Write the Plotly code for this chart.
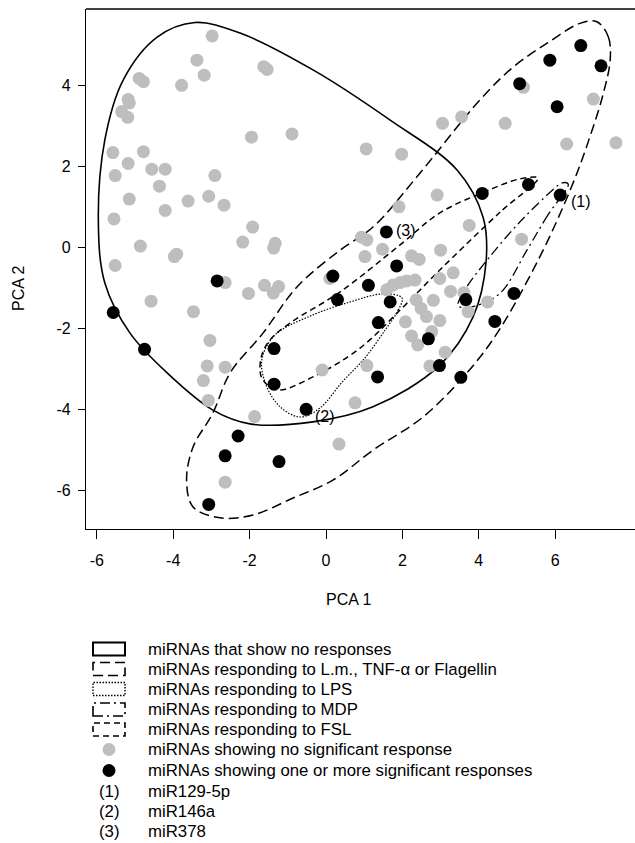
import plotly.graph_objects as go

# ---------------- data ----------------
gray_x = [-2.98, -3.38, -3.19, -1.63, -1.54, -4.89, -4.78, -3.78, -5.18, -5.15, -5.35, -5.19,
          -1.95, -0.89, -5.58, -4.78, -5.18, -4.56, -4.21, -5.52, -2.91, -4.36, -5.15, -3.61,
          -3.07, -2.67, -4.21, -5.55, -1.92, -2.18, -1.33, -1.37, -4.86, -3.91, -3.97, -5.52,
          0.93, 1.07, 1.02, 1.48, 2.24, 2.44, 3.00, 3.33, 2.98, 1.59, 1.76, 1.94, 2.11, 2.33,
          3.26, 3.61, 3.72, 4.23, 2.36, 2.49, 2.63, 2.81, 2.08, 2.98, 2.24, 2.40, 2.77, 3.12,
          2.72, 1.07, 0.76, 0.34,
          7.00, 7.59, 6.30, 4.69, 3.55, 3.05, 1.05, 1.98, 2.91, 1.91, 3.75, 5.12, 5.17,
          -2.64, -2.03, -1.61, -1.24, -1.38, -4.58, -3.47, -3.04, -3.11, -2.64, -3.21, -3.08,
          -1.87, -0.10, -2.64, 0.10]
gray_y = [5.23, 4.63, 4.26, 4.47, 4.40, 4.18, 4.10, 4.01, 3.66, 3.57, 3.36, 3.22,
          2.73, 2.81, 2.35, 2.37, 2.08, 1.94, 1.94, 1.78, 1.78, 1.52, 1.20, 1.15,
          1.27, 1.05, 0.92, 0.71, 0.51, 0.14, 0.11, -0.01, 0.04, -0.16, -0.22, -0.44,
          0.26, 0.19, -0.22, -0.04, -0.20, -0.29, -0.06, -0.62, -0.76, -1.04, -0.92, -0.86,
          -0.82, -0.80, -1.08, -1.11, -1.58, -1.34, -1.29, -1.50, -1.70, -1.30, -1.83, -1.80,
          -2.18, -2.40, -2.07, -2.58, -2.92, -2.91, -3.83, -4.85,
          3.67, 2.59, 2.56, 3.07, 3.23, 3.07, 2.44, 2.31, 1.30, 1.01, 0.55, 0.21, 3.96,
          -0.86, -1.13, -0.93, -0.96, -1.12, -1.32, -1.58, -2.29, -2.92, -2.95, -3.28, -3.77,
          -4.17, -3.02, -5.79, -0.76]

black_x = [-5.57, -4.75, -2.85, 0.18, 0.30, -1.36, -1.36, -0.52, -2.30, -2.64, -1.23, -3.07,
           6.67, 5.86, 7.20, 5.07, 6.05, 4.09, 5.30, 6.13, 1.58, 1.85, 1.11, 1.68, 1.37,
           3.66, 4.92, 4.42, 2.68, 2.97, 1.35, 3.53]
black_y = [-1.60, -2.51, -0.82, -0.70, -1.28, -2.49, -3.37, -3.99, -4.65, -5.14, -5.28, -6.34,
           4.99, 4.63, 4.49, 4.05, 3.48, 1.34, 1.56, 1.30, 0.39, -0.45, -0.93, -1.34, -1.85,
           -1.28, -1.13, -1.82, -2.25, -2.91, -3.19, -3.20]

# outlines of the response groups (vertices in PCA units)
none_x = [-3.43, -2.25, -0.34, 1.68, 3.43, 4.11, 4.19, 3.85, 2.96, 1.23, -0.34, -1.99,
          -2.96, -4.16, -5.13, -5.79, -5.96, -5.79, -5.31, -4.42]
none_y = [5.56, 5.30, 4.39, 3.15, 1.92, 0.76, -0.35, -1.71, -2.92, -3.93, -4.30, -4.35,
          -4.01, -3.09, -2.11, -0.87, 0.68, 2.66, 4.14, 5.20]

lm_x = [7.09, 7.39, 7.44, 7.26, 6.91, 6.43, 5.60, 4.48, 3.69, 2.54, 1.23, 0.18, -0.86,
        -1.91, -2.78, -3.48, -3.65, -3.48, -2.96, -2.51, -1.65, -0.76, 0.37, 1.23, 2.38,
        4.03, 4.90, 5.79, 6.65]
lm_y = [5.58, 5.21, 4.64, 3.81, 2.74, 1.51, -0.22, -2.11, -3.09, -4.18, -5.00, -5.74, -6.18,
        -6.60, -6.67, -6.40, -5.74, -4.92, -4.08, -3.09, -2.11, -0.97, -0.06, 0.51, 1.75,
        3.65, 4.46, 5.05, 5.54]

lps_x = [1.99, 1.89, 1.55, 1.02, 0.42, -0.16, -0.68, -1.20, -1.57, -1.68, -1.34, -0.42, 0.63, 1.49]
lps_y = [-1.24, -1.54, -2.03, -2.72, -3.32, -3.96, -4.18, -3.93, -3.39, -2.77, -2.16, -1.69, -1.34, -1.14]

mdp_x = [6.34, 5.81, 5.26, 4.56, 3.90, 3.46, 3.64, 4.22, 5.08, 5.94, 6.18]
mdp_y = [1.57, 0.81, -0.06, -1.12, -1.44, -1.44, -1.04, -0.30, 0.64, 1.43, 1.60]

fsl_x = [5.55, 4.56, 2.98, 1.94, 0.89, -0.34, -1.28, -1.68, -1.70, -1.47, -0.94, 0.37,
         1.94, 2.98, 4.08, 5.08]
fsl_y = [1.72, 0.88, -0.55, -1.54, -2.48, -3.19, -3.51, -3.22, -2.72, -2.28, -1.86, -1.09,
         0.07, 0.86, 1.35, 1.70]

label_text = ["(1)", "(2)", "(3)"]
label_x = [6.36, -0.34, 1.79]
label_y = [1.14, -4.17, 0.42]

x_ticks = [-6, -4, -2, 0, 2, 4, 6]
y_ticks = [-6, -4, -2, 0, 2, 4]

legend_labels = [
    "miRNAs that show no responses",
    "miRNAs responding to L.m., TNF-\u03b1 or Flagellin",
    "miRNAs responding to LPS",
    "miRNAs responding to MDP",
    "miRNAs responding to FSL",
    "miRNAs showing no significant response",
    "miRNAs showing one or more significant responses",
    "miR129-5p",
    "miR146a",
    "miR378",
]
legend_keys = ["(1)", "(2)", "(3)"]

# ---------------- layout constants ----------------
W, H = 635, 843
L, R, T, B = 86, 635, 9, 529
FONT = "Liberation Sans, Arial, sans-serif"
GRAY = "#BEBEBE"
LEG_SIZE = 16.8


def px(xp):
    return (xp - L) / (R - L)


def py(yp):
    return (B - yp) / (B - T)


fig = go.Figure()

outline_styles = [
    (none_x, none_y, "solid", 1.6),
    (lm_x, lm_y, "10px,5px", 1.5),
    (lps_x, lps_y, "1.5px,1.5px", 1.2),
    (mdp_x, mdp_y, "10px,4px,2px,4px", 1.3),
    (fsl_x, fsl_y, "6px,4px", 1.5),
]
for xs, ys, dash, w in outline_styles:
    fig.add_trace(go.Scatter(
        x=list(xs) + [xs[0]], y=list(ys) + [ys[0]], mode="lines",
        line=dict(color="black", width=w, dash=dash, shape="spline", smoothing=1),
        hoverinfo="skip", showlegend=False))

fig.add_trace(go.Scatter(x=gray_x, y=gray_y, mode="markers",
                         marker=dict(color=GRAY, size=13, line=dict(width=0)),
                         showlegend=False))
fig.add_trace(go.Scatter(x=black_x, y=black_y, mode="markers",
                         marker=dict(color="black", size=13, line=dict(width=0)),
                         showlegend=False))

annotations = []
for t, lx, ly in zip(label_text, label_x, label_y):
    annotations.append(dict(x=lx, y=ly, xref="x", yref="y", text=t, showarrow=False,
                            xanchor="left", yanchor="middle",
                            font=dict(family=FONT, size=16, color="black")))

# axis titles
annotations.append(dict(x=px(348), y=py(599), xref="paper", yref="paper", text="PCA 1",
                        showarrow=False, xanchor="center", yanchor="middle",
                        font=dict(family=FONT, size=16, color="black")))
annotations.append(dict(x=px(18), y=py(289), xref="paper", yref="paper", text="PCA 2",
                        showarrow=False, xanchor="center", yanchor="middle", textangle=-90,
                        font=dict(family=FONT, size=16, color="black")))

shapes = [dict(type="line", xref="paper", yref="paper", x0=0, x1=1, y0=1, y1=1,
               line=dict(color="black", width=1.3))]

# legend
row_y = [649, 669, 689, 709.5, 729.5, 749.5, 770.5, 791.5, 811.5, 831]
box_dash = ["solid", "10px,5px", "1.5px,1.5px", "10px,4px,2px,4px", "6px,4px"]
box_w = [2, 1.6, 1.4, 1.6, 1.6]
for i, d in enumerate(box_dash):
    shapes.append(dict(type="rect", xref="paper", yref="paper",
                       x0=px(93), x1=px(125), y0=py(row_y[i] + 6.5), y1=py(row_y[i] - 6.5),
                       line=dict(color="black", width=box_w[i], dash=d)))
for i, c in zip([5, 6], [GRAY, "black"]):
    shapes.append(dict(type="circle", xref="paper", yref="paper", xsizemode="pixel",
                       ysizemode="pixel", xanchor=px(109), yanchor=py(row_y[i]),
                       x0=-6.5, x1=6.5, y0=-6.5, y1=6.5, fillcolor=c, line=dict(width=0)))
for k, key in enumerate(legend_keys):
    annotations.append(dict(x=px(109), y=py(row_y[7 + k]), xref="paper", yref="paper",
                            text=key, showarrow=False, xanchor="center", yanchor="middle",
                            font=dict(family=FONT, size=LEG_SIZE, color="black")))
for i, lab in enumerate(legend_labels):
    annotations.append(dict(x=px(146), y=py(row_y[i]), xref="paper", yref="paper",
                            text=lab, showarrow=False, xanchor="left", yanchor="middle",
                            font=dict(family=FONT, size=LEG_SIZE, color="black")))

x0_data = -6.283
x1_data = 8.089
y0_data = -6.946
y1_data = 5.894

fig.update_layout(
    width=W, height=H, autosize=False,
    margin=dict(l=L, r=W - R, t=T, b=H - B, pad=0),
    paper_bgcolor="white", plot_bgcolor="white",
    font=dict(family=FONT, size=16, color="black"),
    showlegend=False,
    xaxis=dict(range=[x0_data, x1_data], tickvals=x_ticks, ticktext=[str(v) for v in x_ticks],
               ticks="outside", ticklen=9, tickwidth=1, tickcolor="black",
               showline=True, linecolor="black", linewidth=1.3, mirror=False,
               showgrid=False, zeroline=False, tickfont=dict(size=16),
               ticklabelstandoff=8),
    yaxis=dict(range=[y0_data, y1_data], tickvals=y_ticks, ticktext=[str(v) for v in y_ticks],
               ticks="outside", ticklen=7, tickwidth=1, tickcolor="black",
               showline=True, linecolor="black", linewidth=1.3, mirror=False,
               showgrid=False, zeroline=False, tickfont=dict(size=16),
               ticklabelstandoff=4),
    annotations=annotations,
    shapes=shapes,
)

fig.write_html("out.html", config={"displayModeBar": False},
               post_script="document.body.style.margin='0';document.body.style.overflow='hidden';")
